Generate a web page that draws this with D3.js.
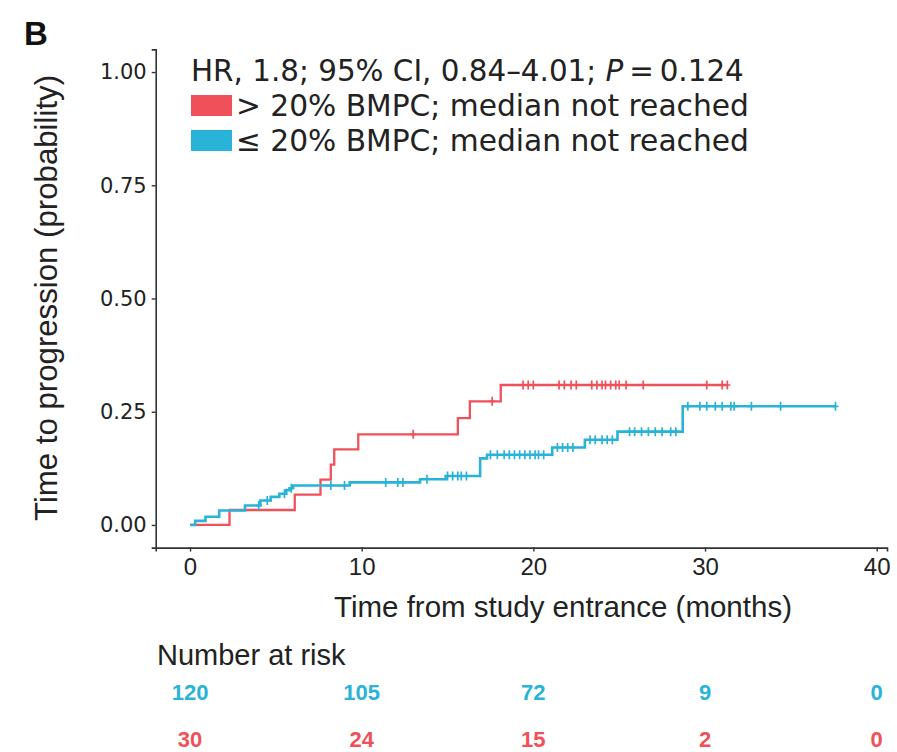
<!DOCTYPE html>
<html>
<head>
<meta charset="utf-8">
<script src="https://cdn.jsdelivr.net/npm/d3@7"></script>
<style>
  html, body { margin: 0; padding: 0; background: #fff; }
  svg { display: block; }
</style>
</head>
<body>
<svg id="chart" width="897" height="752"></svg>
<script>
// Kaplan–Meier step points: [months, cumulative probability of progression]
const highBMPCSteps = [
  [0, 0], [2.3, 0.033], [6.1, 0.067], [7.6, 0.1], [8.2, 0.133], [8.4, 0.167],
  [9.8, 0.2], [15.6, 0.236], [16.3, 0.273], [18.1, 0.309]
];
const highBMPCEnd = 31.3;
const highBMPCCensored = [
  13.0, 17.6, 19.4, 19.7, 20.0, 21.5, 21.8, 22.2, 22.5, 23.4, 23.7, 24.0, 24.2,
  24.5, 24.8, 25.0, 25.4, 26.4, 30.1, 31.0, 31.3
];

const lowBMPCSteps = [
  [0, 0], [0.3, 0.009], [0.9, 0.018], [1.7, 0.032], [3.2, 0.043], [4.1, 0.054],
  [4.7, 0.062], [5.2, 0.069], [5.6, 0.077], [5.8, 0.081], [6.0, 0.087],
  [9.3, 0.094], [13.4, 0.101], [14.9, 0.108], [16.9, 0.147], [17.3, 0.155],
  [21.1, 0.171], [23.0, 0.188], [24.9, 0.206], [28.7, 0.262]
];
const lowBMPCEnd = 37.6;
const lowBMPCCensored = [
  4.0, 4.5, 5.5, 5.9, 8.2, 9.0, 11.4, 12.1, 12.4, 13.8, 15.0, 15.3, 15.6, 15.8,
  16.1, 17.5, 17.9, 18.3, 18.6, 18.9, 19.2, 19.5, 19.8, 20.1, 20.3, 20.6, 21.4,
  21.7, 22.0, 22.3, 23.3, 23.6, 24.0, 24.3, 24.6, 25.6, 25.9, 26.3, 26.7, 27.1,
  27.5, 28.0, 28.3, 29.0, 29.7, 30.1, 30.6, 31.0, 31.5, 31.7, 32.7, 34.4, 37.6
];

const xTicks = [0, 10, 20, 30, 40];
const yTicks = [0, 0.25, 0.5, 0.75, 1];

const riskTimes = [0, 10, 20, 30, 40];
const lowBMPCAtRisk = [120, 105, 72, 9, 0];
const highBMPCAtRisk = [30, 24, 15, 2, 0];

const legendLabels = ["> 20% BMPC; median not reached", "\u2264 20% BMPC; median not reached"];

const RED = "#F0505A";
const BLUE = "#2AB3D8";

const svg = d3.select("#chart");

const x = d3.scaleLinear().domain([-2, 40.6]).range([155.7, 887]);
const y = d3.scaleLinear().domain([-0.05, 1.05]).range([547.6, 49.4]);

// panel letter
svg.append("text").attr("x", 24).attr("y", 45)
  .attr("font-family", "Liberation Sans, Arial, sans-serif")
  .attr("font-weight", "bold").attr("font-size", 33).attr("fill", "#111").text("B");

// axes
const axisColor = "#333";
const gx = svg.append("g").attr("transform", `translate(0,${y.range()[0]})`)
  .call(d3.axisBottom(x).tickValues(xTicks).tickSizeOuter(0).tickSize(4).tickPadding(6));
const gy = svg.append("g").attr("transform", `translate(${x.range()[0]},0)`)
  .call(d3.axisLeft(y).tickValues(yTicks).tickFormat(d3.format(".2f")).tickSizeOuter(0).tickSize(4).tickPadding(5));

[gx, gy].forEach(g => {
  g.select(".domain").attr("stroke", axisColor).attr("stroke-width", 1.6);
  g.selectAll(".tick line").attr("stroke", axisColor).attr("stroke-width", 1.4);
});
gx.selectAll(".tick text").attr("font-family", "Liberation Sans, Arial, sans-serif")
  .attr("font-size", 24).attr("fill", "#222");
gy.selectAll(".tick text").attr("font-family", "DejaVu Sans, sans-serif")
  .attr("font-size", 21).attr("fill", "#222");

// axis titles
svg.append("text").attr("x", 563).attr("y", 617).attr("text-anchor", "middle")
  .attr("font-family", "Liberation Sans, Arial, sans-serif").attr("font-size", 29.5).attr("fill", "#222")
  .text("Time from study entrance (months)");
svg.append("text").attr("transform", "translate(57,298) rotate(-90)").attr("text-anchor", "middle")
  .attr("font-family", "Liberation Sans, Arial, sans-serif").attr("font-size", 31.2).attr("fill", "#222")
  .text("Time to progression (probability)");

// survival curves
function stepPath(steps, end) {
  const pts = steps.slice();
  pts.push([end, steps[steps.length - 1][1]]);
  return d3.line().x(d => x(d[0])).y(d => y(d[1])).curve(d3.curveStepAfter)(pts);
}
function valueAt(steps, t) {
  const i = d3.bisectRight(steps.map(d => d[0]), t) - 1;
  return steps[Math.max(0, i)][1];
}
function drawGroup(steps, end, censored, color, width) {
  svg.append("path").attr("d", stepPath(steps, end)).attr("fill", "none")
    .attr("stroke", color).attr("stroke-width", width);
  svg.append("g").selectAll("path").data(censored).join("path")
    .attr("d", t => {
      const cx = x(t), cy = y(valueAt(steps, t));
      return `M${cx - 3},${cy}H${cx + 3}M${cx},${cy - 4.5}V${cy + 4.5}`;
    })
    .attr("stroke", color).attr("stroke-width", 1.7).attr("fill", "none");
}
drawGroup(highBMPCSteps, highBMPCEnd, highBMPCCensored, RED, 2.3);
drawGroup(lowBMPCSteps, lowBMPCEnd, lowBMPCCensored, BLUE, 2.6);

// legend
const legend = svg.append("g").attr("font-family", "DejaVu Sans, sans-serif").attr("fill", "#222");
const hr = legend.append("text").attr("x", 191).attr("y", 81).attr("font-size", 29.4);
hr.append("tspan").text("HR, 1.8; 95% CI, 0.84\u20134.01; ");
hr.append("tspan").attr("font-style", "italic").text("P");
hr.append("tspan").text("\u2009=\u20090.124");
[RED, BLUE].forEach((c, i) => {
  legend.append("rect").attr("x", 191).attr("y", 95 + i * 35).attr("width", 41).attr("height", 21).attr("fill", c);
  legend.append("text").attr("x", 236).attr("y", 116 + i * 35).attr("font-size", 29.7).text(legendLabels[i]);
});

// number at risk table
svg.append("text").attr("x", 157).attr("y", 665)
  .attr("font-family", "Liberation Sans, Arial, sans-serif")
  .attr("font-size", 29).attr("fill", "#222").text("Number at risk");
[[lowBMPCAtRisk, BLUE, 700], [highBMPCAtRisk, RED, 747]].forEach(([vals, c, yy]) => {
  svg.append("g").selectAll("text").data(vals).join("text")
    .attr("x", (d, i) => x(riskTimes[i])).attr("y", yy).attr("text-anchor", "middle")
    .attr("font-family", "Liberation Sans, Arial, sans-serif")
    .attr("font-weight", "bold").attr("font-size", 22).attr("fill", c).text(d => d);
});
</script>
</body>
</html>
